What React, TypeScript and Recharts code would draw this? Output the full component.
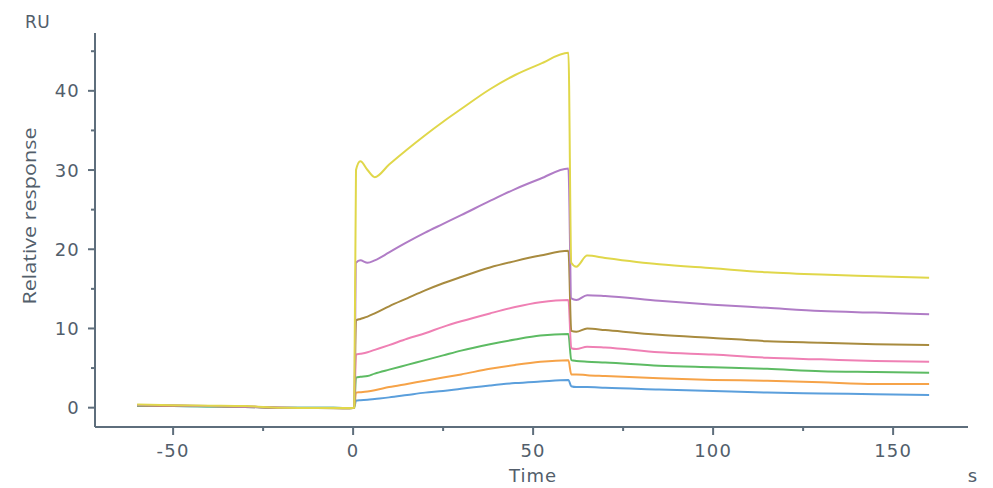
import React from "react";
import { Label, Line, LineChart, XAxis, YAxis } from "recharts";

// time points (s)
const time = [
  -60, -50, -40, -30, -20, -10, -1, 0.3,
  0.8, 2, 4, 6, 10, 15, 20, 25, 30, 38, 45, 52, 59.8,
  60.6, 62, 65, 70, 85, 100, 115, 130, 145, 160,
];

const yellow = [
  0.4, 0.3, 0.25, 0.2, 0.0, -0.05, -0.05, 0,
  30.0, 31.1, 30.0, 29.1, 30.7, 32.6, 34.4, 36.1, 37.7, 40.2, 42.0, 43.4, 44.8,
  18.3, 17.8, 19.2, 18.9, 18.1, 17.6, 17.1, 16.8, 16.6, 16.4,
];
const purple = [
  0.35, 0.3, 0.2, 0.15, 0.0, -0.05, -0.05, 0,
  18.3, 18.6, 18.3, 18.6, 19.6, 20.9, 22.1, 23.2, 24.3, 26.1, 27.6, 28.9, 30.2,
  13.8, 13.6, 14.2, 14.1, 13.5, 13.0, 12.6, 12.2, 12.0, 11.8,
];
const brown = [
  0.3, 0.25, 0.2, 0.15, -0.05, -0.05, -0.1, 0,
  11.0, 11.2, 11.5, 11.9, 12.8, 13.8, 14.8, 15.7, 16.5, 17.7, 18.5, 19.2, 19.8,
  9.7, 9.6, 10.0, 9.8, 9.2, 8.8, 8.4, 8.2, 8.0, 7.9,
];
const pink = [
  0.3, 0.2, 0.2, 0.1, 0.0, -0.05, -0.05, 0,
  6.7, 6.8, 7.0, 7.3, 7.9, 8.7, 9.4, 10.2, 10.9, 11.9, 12.7, 13.3, 13.6,
  7.5, 7.4, 7.7, 7.6, 7.0, 6.7, 6.3, 6.1, 5.9, 5.8,
];
const green = [
  0.25, 0.2, 0.15, 0.1, 0.0, 0.0, -0.05, 0,
  3.8, 3.9, 4.0, 4.3, 4.8, 5.4, 6.0, 6.6, 7.2, 8.0, 8.6, 9.1, 9.3,
  6.0, 5.9, 5.8, 5.7, 5.3, 5.1, 4.9, 4.6, 4.5, 4.4,
];
const orange = [
  0.35, 0.25, 0.2, 0.15, 0.0, -0.05, -0.05, 0,
  1.9, 1.95, 2.05, 2.2, 2.6, 3.0, 3.4, 3.8, 4.2, 4.9, 5.4, 5.8, 6.0,
  4.2, 4.2, 4.1, 4.0, 3.7, 3.5, 3.4, 3.2, 3.0, 3.0,
];
const blue = [
  0.2, 0.2, 0.15, 0.1, 0.0, 0.0, -0.05, 0,
  0.9, 0.95, 1.0, 1.1, 1.3, 1.6, 1.9, 2.1, 2.4, 2.8, 3.1, 3.3, 3.5,
  2.7, 2.6, 2.6, 2.5, 2.3, 2.1, 1.9, 1.8, 1.7, 1.6,
];

const xTicks = [-50, -25, 0, 25, 50, 75, 100, 125, 150];
const xMajor = [-50, 0, 50, 100, 150];
const yTicks = [0, 5, 10, 15, 20, 25, 30, 35, 40, 45];
const yMajor = [0, 10, 20, 30, 40];

const series = [
  { key: "blue", color: "#5b9fdc" },
  { key: "orange", color: "#f6a348" },
  { key: "green", color: "#5dbb63" },
  { key: "pink", color: "#ef80b4" },
  { key: "brown", color: "#a88b3f" },
  { key: "purple", color: "#b07cc6" },
  { key: "yellow", color: "#e0d74a" },
];

const data = time.map((t, i) => ({
  t,
  blue: blue[i],
  orange: orange[i],
  green: green[i],
  pink: pink[i],
  brown: brown[i],
  purple: purple[i],
  yellow: yellow[i],
}));

const axisColor = "#5e6e7c";
const textColor = "#525e6b";
const font = "'DejaVu Sans', sans-serif";

function XTick(props: any) {
  const { x, y, payload } = props;
  const major = xMajor.includes(payload.value);
  return (
    <g>
      <line x1={x} x2={x} y1={y} y2={y + (major ? 8 : 4)} stroke={axisColor} strokeWidth={2} />
      {major && (
        <text
          x={x}
          y={y + 30}
          textAnchor="middle"
          fill={textColor}
          fontSize={18}
          letterSpacing={1.2}
          fontFamily={font}
        >
          {payload.value}
        </text>
      )}
    </g>
  );
}

function YTick(props: any) {
  const { x, y, payload } = props;
  const major = yMajor.includes(payload.value);
  return (
    <g>
      <line x1={x - (major ? 7 : 4)} x2={x} y1={y} y2={y} stroke={axisColor} strokeWidth={2} />
      {major && (
        <text
          x={x - 15}
          y={y}
          dy="0.36em"
          textAnchor="end"
          fill={textColor}
          fontSize={18}
          letterSpacing={1.2}
          fontFamily={font}
        >
          {payload.value}
        </text>
      )}
    </g>
  );
}

export default function App() {
  return (
    <div style={{ position: "absolute", left: 0, top: 0, background: "#fff" }}>
      <LineChart
        width={993}
        height={488}
        data={data}
        margin={{ top: 33, right: 25, left: 0, bottom: 0 }}
      >
        <XAxis
          type="number"
          dataKey="t"
          domain={[-71.7, 170.8]}
          ticks={xTicks}
          interval={0}
          tickSize={0}
          tickMargin={0}
          tick={<XTick />}
          stroke={axisColor}
          strokeWidth={2}
          height={61}
        >
          <Label
            content={() => (
              <g fontFamily={font} fill={textColor} fontSize={18} letterSpacing={1}>
                <text x={533} y={482} textAnchor="middle">
                  Time
                </text>
                <text x={973} y={482} textAnchor="middle">
                  s
                </text>
              </g>
            )}
          />
        </XAxis>
        <YAxis
          type="number"
          domain={[-2.44, 47.3]}
          ticks={yTicks}
          interval={0}
          tickSize={0}
          tickMargin={0}
          tick={<YTick />}
          stroke={axisColor}
          strokeWidth={2}
          width={95}
        >
          <Label
            content={() => (
              <g fontFamily={font} fill={textColor}>
                <text x={25} y={28} fontSize={17} letterSpacing={0.5}>
                  RU
                </text>
                <text
                  x={0}
                  y={0}
                  transform="translate(36 216) rotate(-90)"
                  textAnchor="middle"
                  fontSize={19}
                  fontFamily="'Open Sans', sans-serif"
                  textLength={177}
                  lengthAdjust="spacingAndGlyphs"
                >
                  Relative response
                </text>
              </g>
            )}
          />
        </YAxis>
        {series.map((s) => (
          <Line
            key={s.key}
            type="monotone"
            dataKey={s.key}
            stroke={s.color}
            strokeWidth={2}
            dot={false}
            activeDot={false}
            isAnimationActive={false}
          />
        ))}
      </LineChart>
    </div>
  );
}
